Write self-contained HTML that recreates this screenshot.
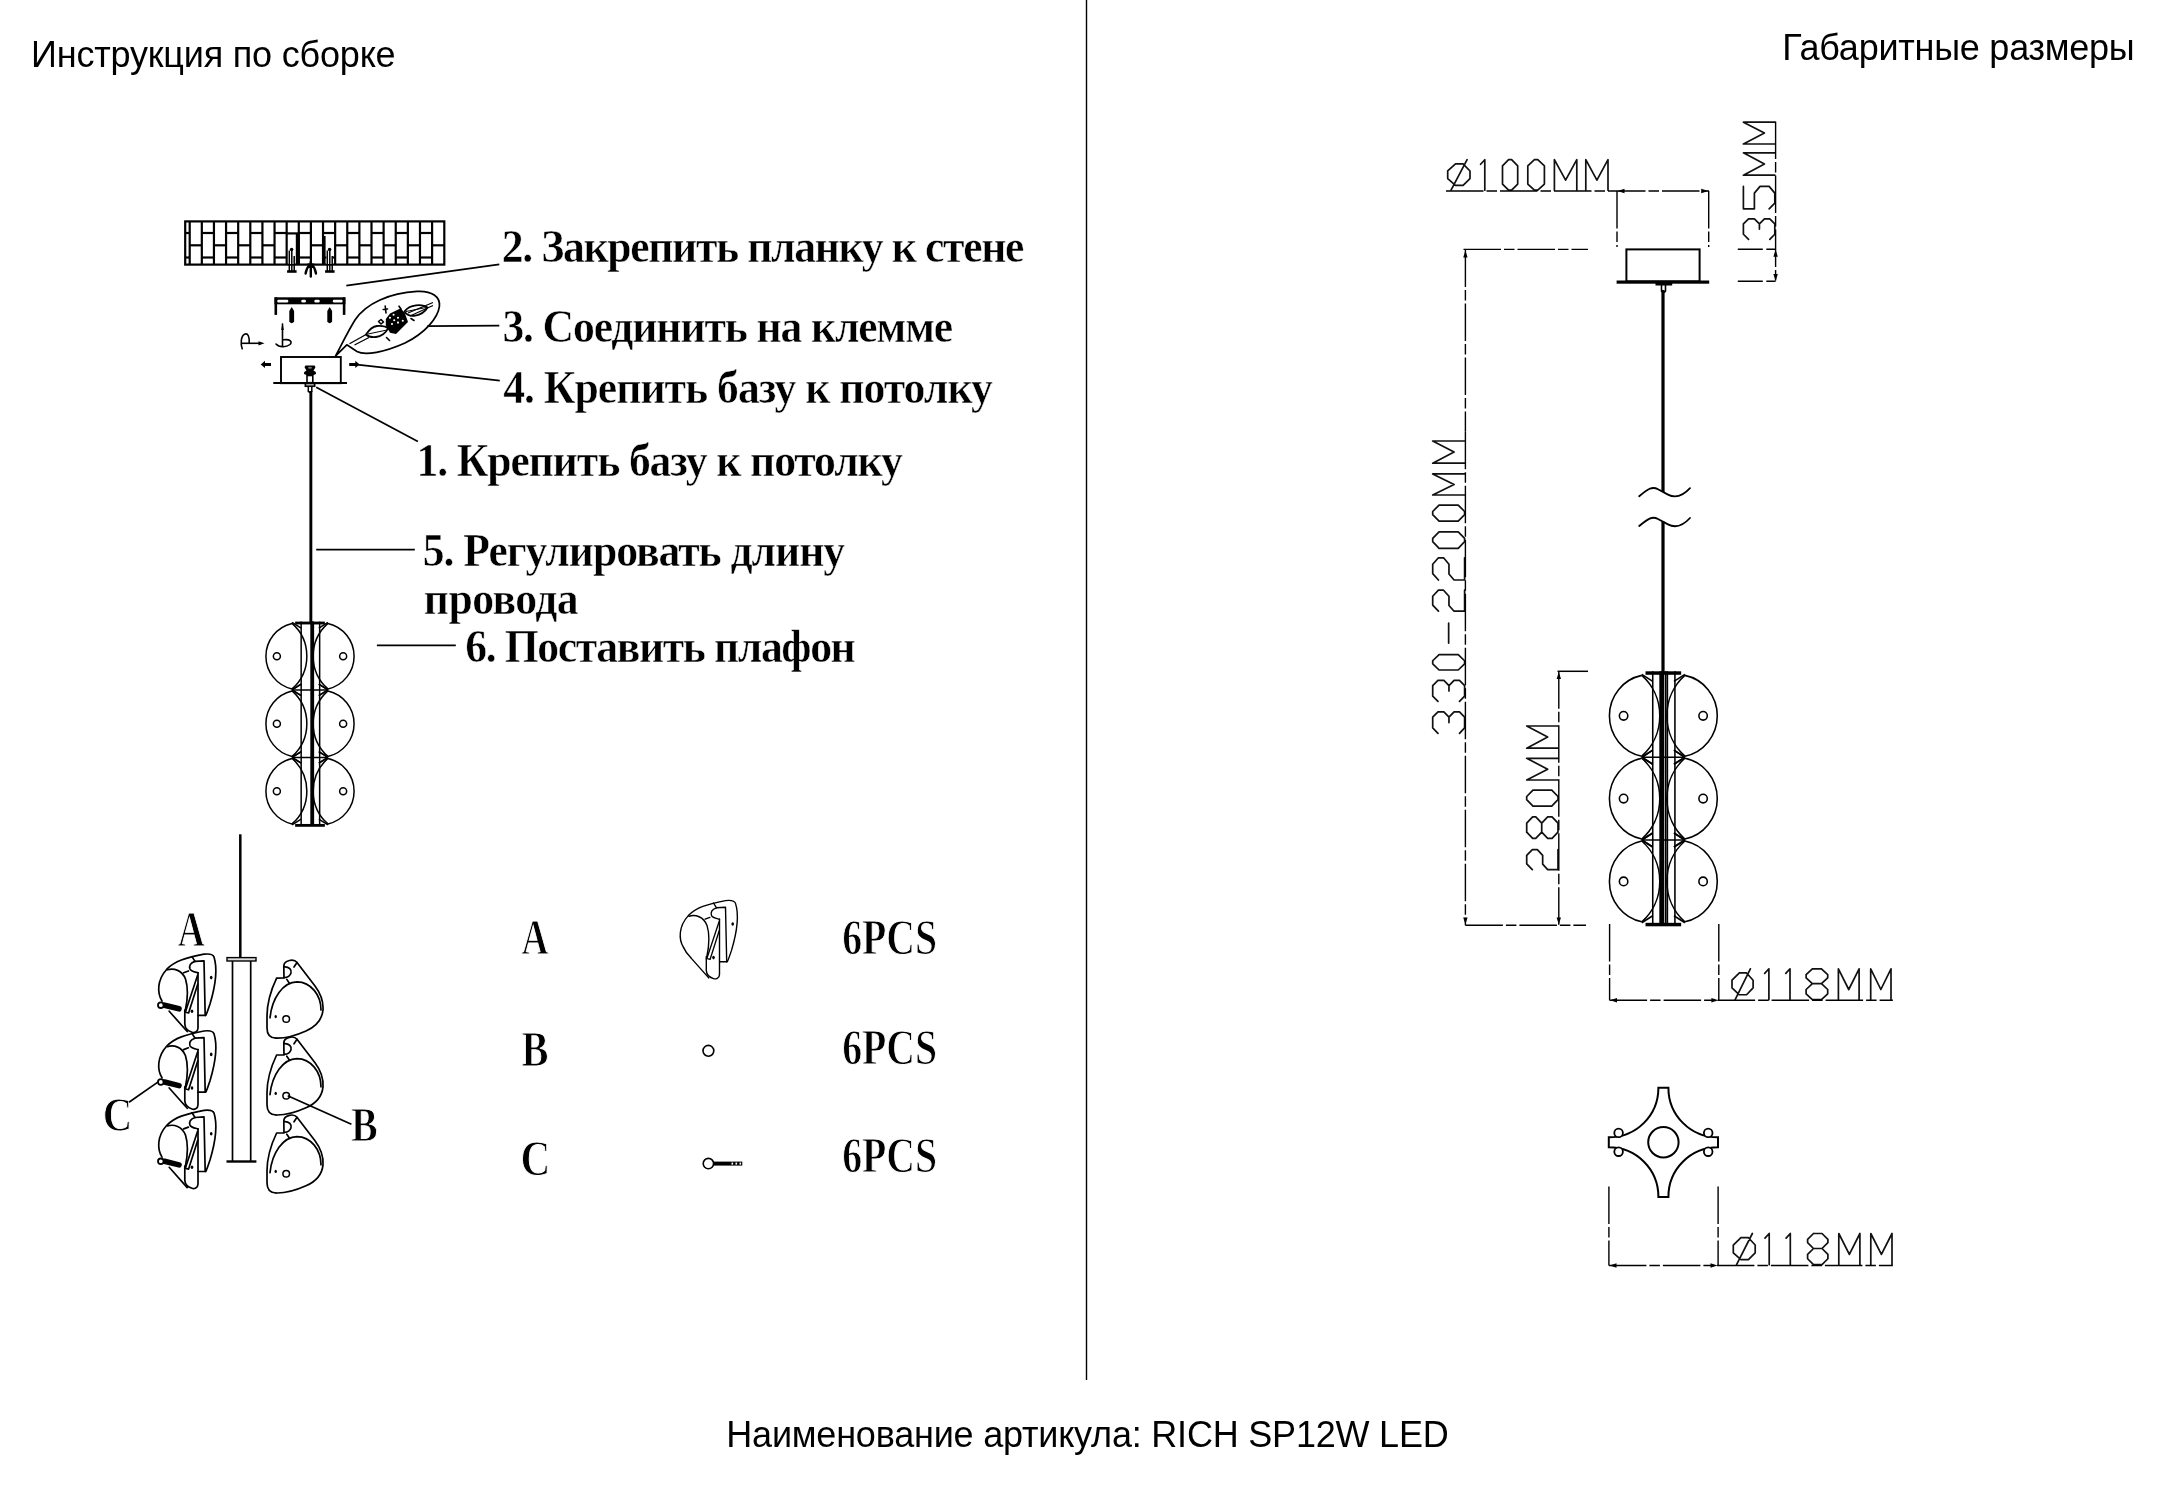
<!DOCTYPE html>
<html><head><meta charset="utf-8"><title>RICH SP12W LED</title>
<style>html,body{margin:0;padding:0;background:#fff;}svg{display:block;will-change:transform;}</style></head>
<body><svg width="2174" height="1500" viewBox="0 0 2174 1500">
<rect width="2174" height="1500" fill="#fff"/>
<text x="31.0" y="67.1" font-family="&quot;Liberation Sans&quot;, sans-serif" font-weight="normal" font-size="36" textLength="364.64" lengthAdjust="spacing">Инструкция по сборке</text><text x="1782.3" y="60.0" font-family="&quot;Liberation Sans&quot;, sans-serif" font-weight="normal" font-size="36" textLength="352.43" lengthAdjust="spacing">Габаритные размеры</text><text x="726.3" y="1446.5" font-family="&quot;Liberation Sans&quot;, sans-serif" font-weight="normal" font-size="36" textLength="722.41" lengthAdjust="spacing">Наименование артикула: RICH SP12W LED</text><text transform="translate(501.8,262.1) scale(0.93,1)" x="0" y="0" font-family="&quot;Liberation Serif&quot;, serif" font-weight="bold" font-size="47" textLength="561.96" lengthAdjust="spacing" stroke="#fff" stroke-width="0.5">2. Закрепить планку к стене</text><text transform="translate(502.4,341.8) scale(0.93,1)" x="0" y="0" font-family="&quot;Liberation Serif&quot;, serif" font-weight="bold" font-size="47" textLength="484.74" lengthAdjust="spacing" stroke="#fff" stroke-width="0.5">3. Соединить на клемме</text><text transform="translate(503.2,402.7) scale(0.93,1)" x="0" y="0" font-family="&quot;Liberation Serif&quot;, serif" font-weight="bold" font-size="47" textLength="526.45" lengthAdjust="spacing" stroke="#fff" stroke-width="0.5">4. Крепить базу к потолку</text><text transform="translate(416.6,475.8) scale(0.93,1)" x="0" y="0" font-family="&quot;Liberation Serif&quot;, serif" font-weight="bold" font-size="47" textLength="522.82" lengthAdjust="spacing" stroke="#fff" stroke-width="0.5">1. Крепить базу к потолку</text><text transform="translate(422.8,566.0) scale(0.93,1)" x="0" y="0" font-family="&quot;Liberation Serif&quot;, serif" font-weight="bold" font-size="47" textLength="454.19" lengthAdjust="spacing" stroke="#fff" stroke-width="0.5">5. Регулировать длину</text><text transform="translate(423.8,613.9) scale(0.93,1)" x="0" y="0" font-family="&quot;Liberation Serif&quot;, serif" font-weight="bold" font-size="47" textLength="166.51" lengthAdjust="spacing" stroke="#fff" stroke-width="0.5">провода</text><text transform="translate(465.2,661.5) scale(0.93,1)" x="0" y="0" font-family="&quot;Liberation Serif&quot;, serif" font-weight="bold" font-size="47" textLength="420.01" lengthAdjust="spacing" stroke="#fff" stroke-width="0.5">6. Поставить плафон</text><text x="177.8" y="945.8" font-family="&quot;Liberation Serif&quot;, serif" font-weight="bold" font-size="50" textLength="27.06" lengthAdjust="spacingAndGlyphs" stroke="#fff" stroke-width="1.0">A</text><text x="102.7" y="1131.2" font-family="&quot;Liberation Serif&quot;, serif" font-weight="bold" font-size="48" textLength="29.56" lengthAdjust="spacingAndGlyphs" stroke="#fff" stroke-width="1.0">C</text><text x="351.0" y="1140.5" font-family="&quot;Liberation Serif&quot;, serif" font-weight="bold" font-size="48" textLength="26.76" lengthAdjust="spacingAndGlyphs" stroke="#fff" stroke-width="1.0">B</text><text x="521.6" y="954.0" font-family="&quot;Liberation Serif&quot;, serif" font-weight="bold" font-size="50" textLength="26.94" lengthAdjust="spacingAndGlyphs" stroke="#fff" stroke-width="1.0">A</text><text x="521.6" y="1066.1" font-family="&quot;Liberation Serif&quot;, serif" font-weight="bold" font-size="50" textLength="27.04" lengthAdjust="spacingAndGlyphs" stroke="#fff" stroke-width="1.0">B</text><text x="520.4" y="1174.6" font-family="&quot;Liberation Serif&quot;, serif" font-weight="bold" font-size="50" textLength="29.85" lengthAdjust="spacingAndGlyphs" stroke="#fff" stroke-width="1.0">C</text><text x="842.2" y="954.0" font-family="&quot;Liberation Serif&quot;, serif" font-weight="bold" font-size="50" textLength="95.04" lengthAdjust="spacingAndGlyphs" stroke="#fff" stroke-width="1.0">6PCS</text><text x="842.2" y="1063.9" font-family="&quot;Liberation Serif&quot;, serif" font-weight="bold" font-size="50" textLength="95.04" lengthAdjust="spacingAndGlyphs" stroke="#fff" stroke-width="1.0">6PCS</text><text x="842.2" y="1172.4" font-family="&quot;Liberation Serif&quot;, serif" font-weight="bold" font-size="50" textLength="95.04" lengthAdjust="spacingAndGlyphs" stroke="#fff" stroke-width="1.0">6PCS</text><rect x="1085.8" y="0" width="1.4" height="1380" fill="#000"/><rect x="185.2" y="221.4" width="259.10" height="43.20" fill="none" stroke="#000" stroke-width="2.2"/><line x1="201.82" y1="221.4" x2="201.82" y2="264.6" stroke="#000" stroke-width="2.2"/><line x1="213.94" y1="221.4" x2="213.94" y2="264.6" stroke="#000" stroke-width="2.2"/><line x1="226.06" y1="221.4" x2="226.06" y2="264.6" stroke="#000" stroke-width="2.2"/><line x1="238.18" y1="221.4" x2="238.18" y2="264.6" stroke="#000" stroke-width="2.2"/><line x1="250.30" y1="221.4" x2="250.30" y2="264.6" stroke="#000" stroke-width="2.2"/><line x1="262.42" y1="221.4" x2="262.42" y2="264.6" stroke="#000" stroke-width="2.2"/><line x1="274.54" y1="221.4" x2="274.54" y2="264.6" stroke="#000" stroke-width="2.2"/><line x1="286.66" y1="221.4" x2="286.66" y2="264.6" stroke="#000" stroke-width="2.2"/><line x1="298.78" y1="221.4" x2="298.78" y2="264.6" stroke="#000" stroke-width="2.2"/><line x1="310.90" y1="221.4" x2="310.90" y2="264.6" stroke="#000" stroke-width="2.2"/><line x1="323.02" y1="221.4" x2="323.02" y2="264.6" stroke="#000" stroke-width="2.2"/><line x1="335.14" y1="221.4" x2="335.14" y2="264.6" stroke="#000" stroke-width="2.2"/><line x1="347.26" y1="221.4" x2="347.26" y2="264.6" stroke="#000" stroke-width="2.2"/><line x1="359.38" y1="221.4" x2="359.38" y2="264.6" stroke="#000" stroke-width="2.2"/><line x1="371.50" y1="221.4" x2="371.50" y2="264.6" stroke="#000" stroke-width="2.2"/><line x1="383.62" y1="221.4" x2="383.62" y2="264.6" stroke="#000" stroke-width="2.2"/><line x1="395.74" y1="221.4" x2="395.74" y2="264.6" stroke="#000" stroke-width="2.2"/><line x1="407.86" y1="221.4" x2="407.86" y2="264.6" stroke="#000" stroke-width="2.2"/><line x1="419.98" y1="221.4" x2="419.98" y2="264.6" stroke="#000" stroke-width="2.2"/><line x1="432.10" y1="221.4" x2="432.10" y2="264.6" stroke="#000" stroke-width="2.2"/><line x1="189.7" y1="221.4" x2="189.7" y2="264.6" stroke="#000" stroke-width="2.2"/><line x1="185.20" y1="233.0" x2="189.70" y2="233.0" stroke="#000" stroke-width="2.2"/><line x1="185.20" y1="257.5" x2="189.70" y2="257.5" stroke="#000" stroke-width="2.2"/><line x1="189.70" y1="245.3" x2="201.82" y2="245.3" stroke="#000" stroke-width="2.2"/><line x1="201.82" y1="233.0" x2="213.94" y2="233.0" stroke="#000" stroke-width="2.2"/><line x1="201.82" y1="257.5" x2="213.94" y2="257.5" stroke="#000" stroke-width="2.2"/><line x1="213.94" y1="245.3" x2="226.06" y2="245.3" stroke="#000" stroke-width="2.2"/><line x1="226.06" y1="233.0" x2="238.18" y2="233.0" stroke="#000" stroke-width="2.2"/><line x1="226.06" y1="257.5" x2="238.18" y2="257.5" stroke="#000" stroke-width="2.2"/><line x1="238.18" y1="245.3" x2="250.30" y2="245.3" stroke="#000" stroke-width="2.2"/><line x1="250.30" y1="233.0" x2="262.42" y2="233.0" stroke="#000" stroke-width="2.2"/><line x1="250.30" y1="257.5" x2="262.42" y2="257.5" stroke="#000" stroke-width="2.2"/><line x1="262.42" y1="245.3" x2="274.54" y2="245.3" stroke="#000" stroke-width="2.2"/><line x1="274.54" y1="233.0" x2="286.66" y2="233.0" stroke="#000" stroke-width="2.2"/><line x1="274.54" y1="257.5" x2="286.66" y2="257.5" stroke="#000" stroke-width="2.2"/><line x1="286.66" y1="233.4" x2="298.78" y2="233.4" stroke="#000" stroke-width="2.2"/><line x1="298.78" y1="233.0" x2="310.90" y2="233.0" stroke="#000" stroke-width="2.2"/><line x1="298.78" y1="257.5" x2="310.90" y2="257.5" stroke="#000" stroke-width="2.2"/><line x1="310.90" y1="245.3" x2="323.02" y2="245.3" stroke="#000" stroke-width="2.2"/><line x1="323.02" y1="233.0" x2="335.14" y2="233.0" stroke="#000" stroke-width="2.2"/><line x1="323.02" y1="257.5" x2="335.14" y2="257.5" stroke="#000" stroke-width="2.2"/><line x1="335.14" y1="245.3" x2="347.26" y2="245.3" stroke="#000" stroke-width="2.2"/><line x1="347.26" y1="233.0" x2="359.38" y2="233.0" stroke="#000" stroke-width="2.2"/><line x1="347.26" y1="257.5" x2="359.38" y2="257.5" stroke="#000" stroke-width="2.2"/><line x1="359.38" y1="245.3" x2="371.50" y2="245.3" stroke="#000" stroke-width="2.2"/><line x1="371.50" y1="233.0" x2="383.62" y2="233.0" stroke="#000" stroke-width="2.2"/><line x1="371.50" y1="257.5" x2="383.62" y2="257.5" stroke="#000" stroke-width="2.2"/><line x1="383.62" y1="245.3" x2="395.74" y2="245.3" stroke="#000" stroke-width="2.2"/><line x1="395.74" y1="233.0" x2="407.86" y2="233.0" stroke="#000" stroke-width="2.2"/><line x1="395.74" y1="257.5" x2="407.86" y2="257.5" stroke="#000" stroke-width="2.2"/><line x1="407.86" y1="245.3" x2="419.98" y2="245.3" stroke="#000" stroke-width="2.2"/><line x1="419.98" y1="233.0" x2="432.10" y2="233.0" stroke="#000" stroke-width="2.2"/><line x1="419.98" y1="257.5" x2="432.10" y2="257.5" stroke="#000" stroke-width="2.2"/><line x1="432.10" y1="245.3" x2="444.30" y2="245.3" stroke="#000" stroke-width="2.2"/><rect x="295.8" y="234" width="4" height="30.6" fill="#000"/><rect x="322.2" y="236" width="3.4" height="28.6" fill="#000"/><rect x="288.40000000000003" y="250" width="6.4" height="14" fill="#fff"/><path d="M289.3,250.5 L289.3,271 M291.8,250.5 L291.8,271 M294.20000000000005,256 L294.20000000000005,271" stroke="#000" stroke-width="1.5" fill="none"/><circle cx="291.6" cy="249.5" r="1.8" fill="#000"/><line x1="287.1" y1="271.5" x2="296.6" y2="271.5" stroke="#000" stroke-width="2.6"/><rect x="326.40000000000003" y="250" width="6.4" height="14" fill="#fff"/><path d="M327.3,250.5 L327.3,271 M329.8,250.5 L329.8,271 M332.20000000000005,256 L332.20000000000005,271" stroke="#000" stroke-width="1.5" fill="none"/><circle cx="329.6" cy="249.5" r="1.8" fill="#000"/><line x1="325.1" y1="271.5" x2="334.6" y2="271.5" stroke="#000" stroke-width="2.6"/><path d="M310.8,262 L310.8,276.5 M309.5,265 Q306.5,268 305.6,273.5 M312.1,265 Q315.1,268 316,273.5" stroke="#000" stroke-width="2.4" fill="none" stroke-linecap="round"/><path d="M307.2,263.5 L314.4,263.5 L313,268 L308.6,268 Z" fill="#000"/><rect x="274.5" y="297.3" width="70.9" height="7" fill="#000"/><rect x="277.2" y="299.8" width="11.1" height="2.6" rx="1.2" fill="#fff"/><rect x="301.3" y="299.8" width="4.6" height="2.6" rx="1.2" fill="#fff"/><rect x="314.4" y="299.8" width="5.3" height="2.6" rx="1.2" fill="#fff"/><rect x="332.8" y="299.8" width="9.9" height="2.6" rx="1.2" fill="#fff"/><rect x="274.5" y="297.3" width="2.6" height="17.6" fill="#000"/><rect x="342.8" y="297.3" width="2.6" height="17.6" fill="#000"/><path d="M291.7,307 L294.09999999999997,311 L294.09999999999997,321.5 Q291.7,325 289.3,321.5 L289.3,311 Z" fill="#000"/><path d="M329.7,307 L332.09999999999997,311 L332.09999999999997,321.5 Q329.7,325 327.3,321.5 L327.3,311 Z" fill="#000"/><path d="M242.2,348.8 C240.5,344 240.8,336 244.5,334.2 C248,332.6 249.6,337 249.2,343" fill="none" stroke="#000" stroke-width="1.6" stroke-linecap="round"/><line x1="241.5" y1="343.3" x2="261" y2="343.3" stroke="#000" stroke-width="1.6"/><path d="M264.5,343.3 L258.5,341.2 L258.5,345.4 Z" fill="#000"/><path d="M282.5,324 L282.5,346.5 M276,344 C279,347.5 286,347.8 290,344.5 C292.5,342 290.5,338.8 283.5,339.8" fill="none" stroke="#000" stroke-width="1.6" stroke-linecap="round"/><path d="M282.5,323 L283.8,330 L281.2,330 Z" fill="#000"/><rect x="281" y="357" width="59.8" height="26.2" fill="none" stroke="#000" stroke-width="1.9"/><line x1="273.3" y1="383.1" x2="347" y2="383.1" stroke="#000" stroke-width="2"/><path d="M260.7,364.4 L265,360.8 L265,362.9 L271,362.9 L271,366 L265,366 L265,368 Z" fill="#000"/><path d="M359.6,364.4 L355.3,360.8 L355.3,362.9 L349.2,362.9 L349.2,366 L355.3,366 L355.3,368 Z" fill="#000"/><path d="M305.5,365.6 L314.5,365.6 L315.5,367 L314.5,369 L313.5,370.5 L315.8,372 L316,374 L313,375.2 L307,375.2 L304,374 L304.2,372 L306.5,370.5 L305.5,369 L304.5,367 Z" fill="#000"/><ellipse cx="310" cy="367.8" rx="2" ry="1" fill="#777"/><rect x="307" y="375.5" width="5.8" height="7.2" fill="none" stroke="#000" stroke-width="1.6"/><rect x="305.4" y="383.4" width="9.2" height="2.8" fill="none" stroke="#000" stroke-width="1.7"/><path d="M308.3,386.8 L308.3,391.5 L310,392.5 L311.8,391.5 L311.8,386.8" fill="none" stroke="#000" stroke-width="1.5"/><rect x="309.4" y="391" width="2.9" height="231" fill="#000"/><path d="M335.4,356.2 C341,346 347,333 355,320 C366,303 390,293 417,291.4 C432,290.5 440.5,297 439.4,306.4 C438,318 425,333 405,343 C385,352 365,356 357,351.5 L346.8,344.8 L335.4,356.2" fill="#fff" stroke="#000" stroke-width="1.7" stroke-linejoin="round"/><path d="M349.5,343.8 L367,334 M354.5,345 L369,337.5 M408,313 L433,302.5 M410,316 L433,305.5" stroke="#000" stroke-width="1.3" fill="none"/><path d="M366,334.5 C369,330 372,326.5 377,326 C382,325.6 386,326.5 388,328.5 C386,333 381,336.5 376,337 C372,337.4 368,336.5 366,334.5 Z" fill="none" stroke="#000" stroke-width="1.8"/><path d="M368,334 L387,330" stroke="#000" stroke-width="1" fill="none"/><path d="M404.5,311.5 C407,308 411,305.8 416,305.3 C421,304.8 425,305.5 427.5,307.5 C425,312 420,315 414,315.8 C409,316.2 406,314 404.5,311.5 Z" fill="none" stroke="#000" stroke-width="1.8"/><path d="M406,311.5 L426,307.5" stroke="#000" stroke-width="1" fill="none"/><path d="M385.8,319 L390,313.6 L400.8,308.2 L405,313.6 L408,322 L396,334 L390,332.8 L385.8,325.6 Z" fill="#000"/><circle cx="393.6" cy="314.8" r="1.05" fill="#fff"/><circle cx="390" cy="317.8" r="1.05" fill="#fff"/><circle cx="398" cy="317.8" r="1.05" fill="#fff"/><circle cx="394.2" cy="320.2" r="1.05" fill="#fff"/><circle cx="402.8" cy="320.8" r="1.05" fill="#fff"/><circle cx="398" cy="322.6" r="1.05" fill="#fff"/><circle cx="392" cy="324" r="1.05" fill="#fff"/><path d="M385.2,306 L386,313 M383.2,309.5 L387.5,309 M399,306.2 L401,309 M378.5,321.5 L381,319.5 L383.5,322 L381,324 Z M411,318.5 L414,320.5 M386.5,337.5 L389.5,340.5" stroke="#000" stroke-width="1.6" fill="none" stroke-linecap="round" stroke-linejoin="round"/><line x1="346.3" y1="285.6" x2="499.3" y2="264.3" stroke="#000" stroke-width="1.7"/><line x1="427.2" y1="326.2" x2="499.3" y2="325.6" stroke="#000" stroke-width="1.7"/><line x1="357.1" y1="364.6" x2="499.8" y2="380.6" stroke="#000" stroke-width="1.7"/><line x1="316.2" y1="387.3" x2="417.9" y2="441.4" stroke="#000" stroke-width="1.7"/><line x1="316.2" y1="549.7" x2="414.8" y2="549.7" stroke="#000" stroke-width="1.7"/><line x1="376.9" y1="645.4" x2="455.8" y2="645.4" stroke="#000" stroke-width="1.7"/><line x1="129" y1="1102.2" x2="158.9" y2="1081.4" stroke="#000" stroke-width="1.7"/><line x1="287.7" y1="1095.7" x2="351.4" y2="1124.3" stroke="#000" stroke-width="1.7"/><g fill="none" stroke="#000" stroke-width="1.5"><path d="M292.05,623.40 A33.59,33.59 0 0 0 292.05,688.90" /><path d="M292.05,623.40 A43.67,43.67 0 0 1 292.05,688.90" /><circle cx="276.86" cy="656.15" r="3.51" /><path d="M327.95,623.40 A33.59,33.59 0 0 1 327.95,688.90" /><path d="M327.95,623.40 A43.67,43.67 0 0 0 327.95,688.90" /><circle cx="343.14" cy="656.15" r="3.51" /><line x1="292.05" y1="622.40" x2="301.16" y2="628.14" /><line x1="327.95" y1="622.40" x2="318.84" y2="628.14" /><line x1="292.05" y1="689.90" x2="301.16" y2="684.16" /><line x1="292.05" y1="689.90" x2="301.16" y2="695.64" /><line x1="327.95" y1="689.90" x2="318.84" y2="684.16" /><line x1="327.95" y1="689.90" x2="318.84" y2="695.64" /><path d="M292.05,690.90 A33.59,33.59 0 0 0 292.05,756.40" /><path d="M292.05,690.90 A43.67,43.67 0 0 1 292.05,756.40" /><circle cx="276.86" cy="723.65" r="3.51" /><path d="M327.95,690.90 A33.59,33.59 0 0 1 327.95,756.40" /><path d="M327.95,690.90 A43.67,43.67 0 0 0 327.95,756.40" /><circle cx="343.14" cy="723.65" r="3.51" /><line x1="292.05" y1="689.90" x2="327.95" y2="689.90" /><line x1="292.05" y1="689.90" x2="301.16" y2="684.16" /><line x1="292.05" y1="689.90" x2="301.16" y2="695.64" /><line x1="327.95" y1="689.90" x2="318.84" y2="684.16" /><line x1="327.95" y1="689.90" x2="318.84" y2="695.64" /><line x1="292.05" y1="757.40" x2="301.16" y2="751.66" /><line x1="292.05" y1="757.40" x2="301.16" y2="763.14" /><line x1="327.95" y1="757.40" x2="318.84" y2="751.66" /><line x1="327.95" y1="757.40" x2="318.84" y2="763.14" /><path d="M292.05,758.40 A33.59,33.59 0 0 0 292.05,823.90" /><path d="M292.05,758.40 A43.67,43.67 0 0 1 292.05,823.90" /><circle cx="276.86" cy="791.15" r="3.51" /><path d="M327.95,758.40 A33.59,33.59 0 0 1 327.95,823.90" /><path d="M327.95,758.40 A43.67,43.67 0 0 0 327.95,823.90" /><circle cx="343.14" cy="791.15" r="3.51" /><line x1="292.05" y1="757.40" x2="327.95" y2="757.40" /><line x1="292.05" y1="757.40" x2="301.16" y2="751.66" /><line x1="292.05" y1="757.40" x2="301.16" y2="763.14" /><line x1="327.95" y1="757.40" x2="318.84" y2="751.66" /><line x1="327.95" y1="757.40" x2="318.84" y2="763.14" /><line x1="292.05" y1="824.90" x2="301.16" y2="819.16" /><line x1="327.95" y1="824.90" x2="318.84" y2="819.16" /><line x1="301.16" y1="621.60" x2="301.16" y2="826.00" /><line x1="319.65" y1="621.60" x2="319.65" y2="826.00" /><line x1="312.02" y1="621.60" x2="312.02" y2="826.00" /><line x1="313.38" y1="621.60" x2="313.38" y2="826.00" /><rect x="310.31" y="621.60" width="3.38" height="204.40" fill="#000" stroke="none"/><rect x="295.15" y="621.60" width="29.70" height="2.83" fill="#000" stroke="none"/><rect x="295.15" y="823.96" width="29.70" height="2.83" fill="#000" stroke="none"/></g><line x1="240.3" y1="834.3" x2="240.3" y2="958" stroke="#000" stroke-width="2.5"/><rect x="227" y="957.6" width="29" height="3.4" fill="#ddd" stroke="#000" stroke-width="1.4"/><line x1="232.5" y1="961" x2="232.5" y2="1161" stroke="#000" stroke-width="1.7"/><line x1="250.7" y1="961" x2="250.7" y2="1161" stroke="#000" stroke-width="1.7"/><line x1="226.5" y1="1161.5" x2="256.4" y2="1161.5" stroke="#000" stroke-width="2.4"/><path d="M162.00,1001.00 C157.00,993.00 157.00,980.00 166.80,969.20 C175.00,961.00 185.00,958.00 204.00,954.20 C209.00,953.60 213.00,954.00 214.00,957.00 C217.50,968.00 216.00,984.00 210.00,1004.00 C208.00,1010.00 207.00,1013.00 205.80,1015.40 L198.00,1015.40" fill="none" stroke="#000" stroke-width="1.7" stroke-linejoin="round" stroke-linecap="round"/><path d="M204.00,960.80 L205.20,1015.40 M195.00,961.40 L204.00,960.80 M192.00,956.60 L195.00,961.40" fill="none" stroke="#000" stroke-width="1.7" stroke-linejoin="round" stroke-linecap="round"/><path d="M198.00,972.80 L198.00,1028.00 C198.00,1032.00 194.00,1033.00 192.00,1032.20 C188.00,1031.00 185.00,1029.00 184.80,1024.00 L184.80,1010.00" fill="none" stroke="#000" stroke-width="1.7" stroke-linejoin="round" stroke-linecap="round"/><path d="M195.00,961.40 C190.00,963.00 189.00,966.00 190.00,969.00 C191.00,971.50 195.00,972.00 198.00,972.80" fill="none" stroke="#000" stroke-width="1.7" stroke-linejoin="round" stroke-linecap="round"/><path d="M169.20,1011.20 L187.20,1031.50" fill="none" stroke="#000" stroke-width="1.7" stroke-linejoin="round" stroke-linecap="round"/><path d="M167.40,969.80 C174.00,968.00 182.00,970.00 185.50,979.00 C188.00,987.00 187.50,1000.00 185.40,1010.00" fill="none" stroke="#000" stroke-width="1.7" stroke-linejoin="round" stroke-linecap="round"/><path d="M185.40,1012.00 L197.60,975.20 M188.60,1013.00 L197.80,984.00 M184.80,1012.00 L188.60,1013.00" fill="none" stroke="#000" stroke-width="1.7" stroke-linejoin="round" stroke-linecap="round"/><path d="M183.60,972.80 L188.40,971.00" fill="none" stroke="#000" stroke-width="1.7" stroke-linejoin="round" stroke-linecap="round"/><ellipse cx="211.20" cy="977.60" rx="1.3" ry="1.8" fill="#000"/><ellipse cx="192.00" cy="1011.20" rx="1.3" ry="1.8" fill="#000"/><line x1="164.50" y1="1005.20" x2="179.00" y2="1008.80" stroke="#000" stroke-width="5.6" stroke-linecap="round"/><circle cx="160.80" cy="1005.20" r="2.8" fill="#fff" stroke="#000" stroke-width="1.8"/><path d="M162.00,1077.80 C157.00,1069.80 157.00,1056.80 166.80,1046.00 C175.00,1037.80 185.00,1034.80 204.00,1031.00 C209.00,1030.40 213.00,1030.80 214.00,1033.80 C217.50,1044.80 216.00,1060.80 210.00,1080.80 C208.00,1086.80 207.00,1089.80 205.80,1092.20 L198.00,1092.20" fill="none" stroke="#000" stroke-width="1.7" stroke-linejoin="round" stroke-linecap="round"/><path d="M204.00,1037.60 L205.20,1092.20 M195.00,1038.20 L204.00,1037.60 M192.00,1033.40 L195.00,1038.20" fill="none" stroke="#000" stroke-width="1.7" stroke-linejoin="round" stroke-linecap="round"/><path d="M198.00,1049.60 L198.00,1104.80 C198.00,1108.80 194.00,1109.80 192.00,1109.00 C188.00,1107.80 185.00,1105.80 184.80,1100.80 L184.80,1086.80" fill="none" stroke="#000" stroke-width="1.7" stroke-linejoin="round" stroke-linecap="round"/><path d="M195.00,1038.20 C190.00,1039.80 189.00,1042.80 190.00,1045.80 C191.00,1048.30 195.00,1048.80 198.00,1049.60" fill="none" stroke="#000" stroke-width="1.7" stroke-linejoin="round" stroke-linecap="round"/><path d="M169.20,1088.00 L187.20,1108.30" fill="none" stroke="#000" stroke-width="1.7" stroke-linejoin="round" stroke-linecap="round"/><path d="M167.40,1046.60 C174.00,1044.80 182.00,1046.80 185.50,1055.80 C188.00,1063.80 187.50,1076.80 185.40,1086.80" fill="none" stroke="#000" stroke-width="1.7" stroke-linejoin="round" stroke-linecap="round"/><path d="M185.40,1088.80 L197.60,1052.00 M188.60,1089.80 L197.80,1060.80 M184.80,1088.80 L188.60,1089.80" fill="none" stroke="#000" stroke-width="1.7" stroke-linejoin="round" stroke-linecap="round"/><path d="M183.60,1049.60 L188.40,1047.80" fill="none" stroke="#000" stroke-width="1.7" stroke-linejoin="round" stroke-linecap="round"/><ellipse cx="211.20" cy="1054.40" rx="1.3" ry="1.8" fill="#000"/><ellipse cx="192.00" cy="1088.00" rx="1.3" ry="1.8" fill="#000"/><line x1="164.50" y1="1082.00" x2="179.00" y2="1085.60" stroke="#000" stroke-width="5.6" stroke-linecap="round"/><circle cx="160.80" cy="1082.00" r="2.8" fill="#fff" stroke="#000" stroke-width="1.8"/><path d="M162.00,1157.10 C157.00,1149.10 157.00,1136.10 166.80,1125.30 C175.00,1117.10 185.00,1114.10 204.00,1110.30 C209.00,1109.70 213.00,1110.10 214.00,1113.10 C217.50,1124.10 216.00,1140.10 210.00,1160.10 C208.00,1166.10 207.00,1169.10 205.80,1171.50 L198.00,1171.50" fill="none" stroke="#000" stroke-width="1.7" stroke-linejoin="round" stroke-linecap="round"/><path d="M204.00,1116.90 L205.20,1171.50 M195.00,1117.50 L204.00,1116.90 M192.00,1112.70 L195.00,1117.50" fill="none" stroke="#000" stroke-width="1.7" stroke-linejoin="round" stroke-linecap="round"/><path d="M198.00,1128.90 L198.00,1184.10 C198.00,1188.10 194.00,1189.10 192.00,1188.30 C188.00,1187.10 185.00,1185.10 184.80,1180.10 L184.80,1166.10" fill="none" stroke="#000" stroke-width="1.7" stroke-linejoin="round" stroke-linecap="round"/><path d="M195.00,1117.50 C190.00,1119.10 189.00,1122.10 190.00,1125.10 C191.00,1127.60 195.00,1128.10 198.00,1128.90" fill="none" stroke="#000" stroke-width="1.7" stroke-linejoin="round" stroke-linecap="round"/><path d="M169.20,1167.30 L187.20,1187.60" fill="none" stroke="#000" stroke-width="1.7" stroke-linejoin="round" stroke-linecap="round"/><path d="M167.40,1125.90 C174.00,1124.10 182.00,1126.10 185.50,1135.10 C188.00,1143.10 187.50,1156.10 185.40,1166.10" fill="none" stroke="#000" stroke-width="1.7" stroke-linejoin="round" stroke-linecap="round"/><path d="M185.40,1168.10 L197.60,1131.30 M188.60,1169.10 L197.80,1140.10 M184.80,1168.10 L188.60,1169.10" fill="none" stroke="#000" stroke-width="1.7" stroke-linejoin="round" stroke-linecap="round"/><path d="M183.60,1128.90 L188.40,1127.10" fill="none" stroke="#000" stroke-width="1.7" stroke-linejoin="round" stroke-linecap="round"/><ellipse cx="211.20" cy="1133.70" rx="1.3" ry="1.8" fill="#000"/><ellipse cx="192.00" cy="1167.30" rx="1.3" ry="1.8" fill="#000"/><line x1="164.50" y1="1161.30" x2="179.00" y2="1164.90" stroke="#000" stroke-width="5.6" stroke-linecap="round"/><circle cx="160.80" cy="1161.30" r="2.8" fill="#fff" stroke="#000" stroke-width="1.8"/><path d="M283.80,966.00 C284.00,960.00 294.00,958.50 297.00,962.50 L294.00,967.00" fill="none" stroke="#000" stroke-width="1.7" stroke-linejoin="round" stroke-linecap="round"/><path d="M284.40,966.80 C289.00,966.50 292.00,970.00 291.00,973.00 C290.00,976.00 287.00,977.50 284.40,977.60" fill="none" stroke="#000" stroke-width="1.7" stroke-linejoin="round" stroke-linecap="round"/><path d="M283.80,966.00 L284.00,978.00 L276.60,978.20 C271.00,990.00 267.00,1005.00 267.00,1016.00 L267.00,1028.00 C267.00,1034.00 270.00,1038.00 276.00,1038.20" fill="none" stroke="#000" stroke-width="1.7" stroke-linejoin="round" stroke-linecap="round"/><path d="M297.00,962.50 L315.00,986.00 C321.00,994.00 323.50,1002.00 323.00,1010.00 C322.00,1020.00 315.00,1027.00 306.00,1031.00 C297.00,1035.00 285.00,1038.50 276.00,1038.20" fill="none" stroke="#000" stroke-width="1.7" stroke-linejoin="round" stroke-linecap="round"/><path d="M321.00,1010.00 C321.00,995.00 311.00,982.00 297.00,981.80 C283.00,982.00 272.00,998.00 270.00,1017.80" fill="none" stroke="#000" stroke-width="1.7" stroke-linejoin="round" stroke-linecap="round"/><path d="M286.80,979.40 L289.20,983.00" fill="none" stroke="#000" stroke-width="1.7" stroke-linejoin="round" stroke-linecap="round"/><circle cx="286.20" cy="1019.00" r="3.3" fill="none" stroke="#000" stroke-width="1.5"/><ellipse cx="275.70" cy="1016.60" rx="1.2" ry="1.6" fill="#000"/><path d="M283.80,1042.80 C284.00,1036.80 294.00,1035.30 297.00,1039.30 L294.00,1043.80" fill="none" stroke="#000" stroke-width="1.7" stroke-linejoin="round" stroke-linecap="round"/><path d="M284.40,1043.60 C289.00,1043.30 292.00,1046.80 291.00,1049.80 C290.00,1052.80 287.00,1054.30 284.40,1054.40" fill="none" stroke="#000" stroke-width="1.7" stroke-linejoin="round" stroke-linecap="round"/><path d="M283.80,1042.80 L284.00,1054.80 L276.60,1055.00 C271.00,1066.80 267.00,1081.80 267.00,1092.80 L267.00,1104.80 C267.00,1110.80 270.00,1114.80 276.00,1115.00" fill="none" stroke="#000" stroke-width="1.7" stroke-linejoin="round" stroke-linecap="round"/><path d="M297.00,1039.30 L315.00,1062.80 C321.00,1070.80 323.50,1078.80 323.00,1086.80 C322.00,1096.80 315.00,1103.80 306.00,1107.80 C297.00,1111.80 285.00,1115.30 276.00,1115.00" fill="none" stroke="#000" stroke-width="1.7" stroke-linejoin="round" stroke-linecap="round"/><path d="M321.00,1086.80 C321.00,1071.80 311.00,1058.80 297.00,1058.60 C283.00,1058.80 272.00,1074.80 270.00,1094.60" fill="none" stroke="#000" stroke-width="1.7" stroke-linejoin="round" stroke-linecap="round"/><path d="M286.80,1056.20 L289.20,1059.80" fill="none" stroke="#000" stroke-width="1.7" stroke-linejoin="round" stroke-linecap="round"/><circle cx="286.20" cy="1095.80" r="3.3" fill="none" stroke="#000" stroke-width="1.5"/><ellipse cx="275.70" cy="1093.40" rx="1.2" ry="1.6" fill="#000"/><path d="M283.80,1120.80 C284.00,1114.80 294.00,1113.30 297.00,1117.30 L294.00,1121.80" fill="none" stroke="#000" stroke-width="1.7" stroke-linejoin="round" stroke-linecap="round"/><path d="M284.40,1121.60 C289.00,1121.30 292.00,1124.80 291.00,1127.80 C290.00,1130.80 287.00,1132.30 284.40,1132.40" fill="none" stroke="#000" stroke-width="1.7" stroke-linejoin="round" stroke-linecap="round"/><path d="M283.80,1120.80 L284.00,1132.80 L276.60,1133.00 C271.00,1144.80 267.00,1159.80 267.00,1170.80 L267.00,1182.80 C267.00,1188.80 270.00,1192.80 276.00,1193.00" fill="none" stroke="#000" stroke-width="1.7" stroke-linejoin="round" stroke-linecap="round"/><path d="M297.00,1117.30 L315.00,1140.80 C321.00,1148.80 323.50,1156.80 323.00,1164.80 C322.00,1174.80 315.00,1181.80 306.00,1185.80 C297.00,1189.80 285.00,1193.30 276.00,1193.00" fill="none" stroke="#000" stroke-width="1.7" stroke-linejoin="round" stroke-linecap="round"/><path d="M321.00,1164.80 C321.00,1149.80 311.00,1136.80 297.00,1136.60 C283.00,1136.80 272.00,1152.80 270.00,1172.60" fill="none" stroke="#000" stroke-width="1.7" stroke-linejoin="round" stroke-linecap="round"/><path d="M286.80,1134.20 L289.20,1137.80" fill="none" stroke="#000" stroke-width="1.7" stroke-linejoin="round" stroke-linecap="round"/><circle cx="286.20" cy="1173.80" r="3.3" fill="none" stroke="#000" stroke-width="1.5"/><ellipse cx="275.70" cy="1171.40" rx="1.2" ry="1.6" fill="#000"/><path d="M683.50,947.40 C678.50,939.40 678.50,926.40 688.30,915.60 C696.50,907.40 706.50,904.40 725.50,900.60 C730.50,900.00 734.50,900.40 735.50,903.40 C739.00,914.40 737.50,930.40 731.50,950.40 C729.50,956.40 728.50,959.40 727.30,961.80 L719.50,961.80" fill="none" stroke="#000" stroke-width="1.4" stroke-linejoin="round" stroke-linecap="round"/><path d="M725.50,907.20 L726.70,961.80 M716.50,907.80 L725.50,907.20 M713.50,903.00 L716.50,907.80" fill="none" stroke="#000" stroke-width="1.4" stroke-linejoin="round" stroke-linecap="round"/><path d="M719.50,919.20 L719.50,974.40 C719.50,978.40 715.50,979.40 713.50,978.60 C709.50,977.40 706.50,975.40 706.30,970.40 L706.30,956.40" fill="none" stroke="#000" stroke-width="1.4" stroke-linejoin="round" stroke-linecap="round"/><path d="M716.50,907.80 C711.50,909.40 710.50,912.40 711.50,915.40 C712.50,917.90 716.50,918.40 719.50,919.20" fill="none" stroke="#000" stroke-width="1.4" stroke-linejoin="round" stroke-linecap="round"/><path d="M690.70,957.60 L708.70,977.90" fill="none" stroke="#000" stroke-width="1.4" stroke-linejoin="round" stroke-linecap="round"/><path d="M688.90,916.20 C695.50,914.40 703.50,916.40 707.00,925.40 C709.50,933.40 709.00,946.40 706.90,956.40" fill="none" stroke="#000" stroke-width="1.4" stroke-linejoin="round" stroke-linecap="round"/><path d="M706.90,958.40 L719.10,921.60 M710.10,959.40 L719.30,930.40 M706.30,958.40 L710.10,959.40" fill="none" stroke="#000" stroke-width="1.4" stroke-linejoin="round" stroke-linecap="round"/><path d="M705.10,919.20 L709.90,917.40" fill="none" stroke="#000" stroke-width="1.4" stroke-linejoin="round" stroke-linecap="round"/><ellipse cx="732.70" cy="924.00" rx="1.3" ry="1.8" fill="#000"/><ellipse cx="713.50" cy="957.60" rx="1.3" ry="1.8" fill="#000"/><path d="M683.50,947.40 C685.00,950.90 687.50,954.40 690.70,957.60" fill="none" stroke="#000" stroke-width="1.4" stroke-linejoin="round" stroke-linecap="round"/><circle cx="708.4" cy="1050.8" r="5.4" fill="none" stroke="#000" stroke-width="1.6"/><line x1="713" y1="1163.6" x2="742.3" y2="1163.6" stroke="#000" stroke-width="4"/><rect x="731.5" y="1162.6" width="1.6" height="2" fill="#fff"/><rect x="735.5" y="1162.6" width="1.6" height="2" fill="#fff"/><rect x="739.5" y="1162.6" width="1.6" height="2" fill="#fff"/><circle cx="708.4" cy="1163.6" r="5.2" fill="#fff" stroke="#000" stroke-width="1.6"/><path d="M1455.51,163.82 L1463.09,163.82 L1470.00,170.99 L1470.00,178.61 L1463.09,185.32 L1455.51,185.32 L1447.70,178.61 L1447.70,170.99 L1455.51,163.82 M1451.05,190.20 L1467.10,159.70 M1480.60,164.28 L1484.80,159.70 L1484.80,190.20 M1508.58,159.70 L1511.62,159.70 L1517.70,165.80 L1517.70,184.10 L1511.62,190.20 L1508.58,190.20 L1502.50,184.10 L1502.50,165.80 L1508.58,159.70 M1534.44,159.70 L1537.76,159.70 L1544.40,165.80 L1544.40,184.10 L1537.76,190.20 L1534.44,190.20 L1527.80,184.10 L1527.80,165.80 L1534.44,159.70 M1554.40,190.20 L1554.40,159.70 L1565.60,180.14 L1576.80,159.70 L1576.80,190.20 M1585.80,190.20 L1585.80,159.70 L1596.90,180.14 L1608.00,159.70 L1608.00,190.20" fill="none" stroke="#111" stroke-width="1.7" stroke-linejoin="round" stroke-linecap="round"/><path d="M1739.38,972.97 L1746.56,972.97 L1753.10,980.23 L1753.10,987.96 L1746.56,994.76 L1739.38,994.76 L1732.00,987.96 L1732.00,980.23 L1739.38,972.97 M1735.16,999.70 L1750.36,968.80 M1764.70,973.43 L1768.90,968.80 L1768.90,999.70 M1785.80,973.43 L1790.00,968.80 L1790.00,999.70 M1812.36,968.80 L1821.44,968.80 L1827.70,974.67 L1827.70,977.76 L1821.44,983.63 L1812.36,983.63 L1806.10,977.76 L1806.10,974.67 L1812.36,968.80 M1812.36,983.63 L1821.44,983.63 L1827.70,989.50 L1827.70,993.83 L1821.44,999.70 L1812.36,999.70 L1806.10,993.83 L1806.10,989.50 L1812.36,983.63 M1838.40,999.70 L1838.40,968.80 L1848.75,989.50 L1859.10,968.80 L1859.10,999.70 M1870.70,999.70 L1870.70,968.80 L1880.85,989.50 L1891.00,968.80 L1891.00,999.70" fill="none" stroke="#111" stroke-width="1.7" stroke-linejoin="round" stroke-linecap="round"/><path d="M1740.96,1237.71 L1748.41,1237.71 L1755.20,1245.04 L1755.20,1252.84 L1748.41,1259.71 L1740.96,1259.71 L1733.30,1252.84 L1733.30,1245.04 L1740.96,1237.71 M1736.59,1264.70 L1752.35,1233.50 M1765.00,1238.18 L1769.20,1233.50 L1769.20,1264.70 M1786.10,1238.18 L1790.30,1233.50 L1790.30,1264.70 M1813.49,1233.50 L1822.01,1233.50 L1827.90,1239.43 L1827.90,1242.55 L1822.01,1248.48 L1813.49,1248.48 L1807.60,1242.55 L1807.60,1239.43 L1813.49,1233.50 M1813.49,1248.48 L1822.01,1248.48 L1827.90,1254.40 L1827.90,1258.77 L1822.01,1264.70 L1813.49,1264.70 L1807.60,1258.77 L1807.60,1254.40 L1813.49,1248.48 M1838.80,1264.70 L1838.80,1233.50 L1849.35,1254.40 L1859.90,1233.50 L1859.90,1264.70 M1870.80,1264.70 L1870.80,1233.50 L1881.40,1254.40 L1892.00,1233.50 L1892.00,1264.70" fill="none" stroke="#111" stroke-width="1.7" stroke-linejoin="round" stroke-linecap="round"/><path transform="translate(1431.9,740) rotate(-90)" d="M6.70,6.06 L12.07,0.80 L22.82,0.80 L28.20,6.06 L28.20,11.96 L22.82,17.07 L28.20,22.17 L28.20,27.60 L22.82,32.70 L12.07,32.70 L6.70,27.60 M22.82,17.07 L17.45,17.07 M38.60,6.06 L43.85,0.80 L54.35,0.80 L59.60,6.06 L59.60,11.96 L54.35,17.07 L59.60,22.17 L59.60,27.60 L54.35,32.70 L43.85,32.70 L38.60,27.60 M54.35,17.07 L49.10,17.07 M76.16,0.80 L79.24,0.80 L85.40,7.18 L85.40,26.32 L79.24,32.70 L76.16,32.70 L70.00,26.32 L70.00,7.18 L76.16,0.80 M96.90,16.75 L116.80,16.75 M128.80,6.54 L134.89,0.80 L143.71,0.80 L149.80,6.54 L149.80,11.65 L143.71,17.07 L134.47,17.07 L128.80,22.17 L128.80,32.70 L149.80,32.70 M160.00,6.54 L166.44,0.80 L175.76,0.80 L182.20,6.54 L182.20,11.65 L175.76,17.07 L165.99,17.07 L160.00,22.17 L160.00,32.70 L182.20,32.70 M198.30,0.80 L201.60,0.80 L208.20,7.18 L208.20,26.32 L201.60,32.70 L198.30,32.70 L191.70,26.32 L191.70,7.18 L198.30,0.80 M225.30,0.80 L228.50,0.80 L234.90,7.18 L234.90,26.32 L228.50,32.70 L225.30,32.70 L218.90,26.32 L218.90,7.18 L225.30,0.80 M245.00,32.70 L245.00,0.80 L255.55,22.17 L266.10,0.80 L266.10,32.70 M276.80,32.70 L276.80,0.80 L287.90,22.17 L299.00,0.80 L299.00,32.70" fill="none" stroke="#111" stroke-width="1.7" stroke-linejoin="round" stroke-linecap="round"/><path transform="translate(1742.6,245) rotate(-90)" d="M5.60,5.98 L10.75,0.80 L21.05,0.80 L26.20,5.98 L26.20,11.79 L21.05,16.81 L26.20,21.84 L26.20,27.18 L21.05,32.20 L10.75,32.20 L5.60,27.18 M21.05,16.81 L15.90,16.81 M58.60,0.80 L36.20,0.80 L36.20,11.79 L51.88,11.79 L58.60,17.44 L58.60,26.55 L51.88,32.20 L41.80,32.20 L36.20,26.55 M69.80,32.20 L69.80,0.80 L81.00,21.84 L92.20,0.80 L92.20,32.20 M101.00,32.20 L101.00,0.80 L111.90,21.84 L122.80,0.80 L122.80,32.20" fill="none" stroke="#111" stroke-width="1.7" stroke-linejoin="round" stroke-linecap="round"/><path transform="translate(1525.9,875) rotate(-90)" d="M5.40,6.43 L11.20,0.80 L19.60,0.80 L25.40,6.43 L25.40,11.44 L19.60,16.76 L10.80,16.76 L5.40,21.77 L5.40,32.10 L25.40,32.10 M42.86,0.80 L51.94,0.80 L58.20,6.75 L58.20,9.88 L51.94,15.82 L42.86,15.82 L36.60,9.88 L36.60,6.75 L42.86,0.80 M42.86,15.82 L51.94,15.82 L58.20,21.77 L58.20,26.15 L51.94,32.10 L42.86,32.10 L36.60,26.15 L36.60,21.77 L42.86,15.82 M75.30,0.80 L78.50,0.80 L84.90,7.06 L84.90,25.84 L78.50,32.10 L75.30,32.10 L68.90,25.84 L68.90,7.06 L75.30,0.80 M95.00,32.10 L95.00,0.80 L105.85,21.77 L116.70,0.80 L116.70,32.10 M126.80,32.10 L126.80,0.80 L137.90,21.77 L149.00,0.80 L149.00,32.10" fill="none" stroke="#111" stroke-width="1.7" stroke-linejoin="round" stroke-linecap="round"/><line x1="1446" y1="191" x2="1709" y2="191" stroke="#000" stroke-width="1.4" stroke-dasharray="37.5 3 10.5 3"/><line x1="1617" y1="191" x2="1617" y2="247" stroke="#000" stroke-width="1.4" stroke-dasharray="37.5 3 10.5 3"/><line x1="1708.7" y1="191" x2="1708.7" y2="247" stroke="#000" stroke-width="1.4" stroke-dasharray="37.5 3 10.5 3"/><path d="M1617.50,191.00 L1624.50,188.80 L1624.50,193.20 Z" fill="#000"/><path d="M1708.20,191.00 L1701.20,193.20 L1701.20,188.80 Z" fill="#000"/><rect x="1626.4" y="249.4" width="73.2" height="32" fill="none" stroke="#000" stroke-width="2"/><rect x="1616.6" y="280.5" width="92.6" height="3.2" fill="#000"/><rect x="1655.5" y="282" width="16.7" height="3.5" fill="#000"/><path d="M1661.5,285 L1661.5,291 Q1663.5,294 1665.5,291 L1665.5,285" fill="none" stroke="#000" stroke-width="1.6"/><line x1="1775.6" y1="121.4" x2="1775.6" y2="282" stroke="#000" stroke-width="1.4" stroke-dasharray="37.5 3 10.5 3"/><line x1="1737.8" y1="249.3" x2="1775.6" y2="249.3" stroke="#000" stroke-width="1.4" stroke-dasharray="25 3.5 12 3"/><line x1="1737.8" y1="281.3" x2="1775.6" y2="281.3" stroke="#000" stroke-width="1.4" stroke-dasharray="25 3.5 12 3"/><path d="M1775.60,249.80 L1777.80,256.80 L1773.40,256.80 Z" fill="#000"/><path d="M1775.60,281.00 L1773.40,274.00 L1777.80,274.00 Z" fill="#000"/><rect x="1661.4" y="290" width="3.2" height="202" fill="#000"/><rect x="1661.4" y="521.5" width="3.2" height="151" fill="#000"/><path d="M1639.2,496.2 C1648,489 1652,486 1658,489.2 L1668,494.6 C1674,497.8 1681,498 1690,488.2" fill="none" stroke="#000" stroke-width="1.8" stroke-linecap="round"/><path d="M1639.2,526.0 C1648,518.8 1652,515.8 1658,519.0 L1668,524.4 C1674,527.6 1681,527.8 1690,518.0" fill="none" stroke="#000" stroke-width="1.8" stroke-linecap="round"/><line x1="1465.4" y1="431.7" x2="1465.4" y2="925.2" stroke="#000" stroke-width="1.4" stroke-dasharray="37.5 3 10.5 3"/><line x1="1465.4" y1="249.4" x2="1465.4" y2="431.7" stroke="#000" stroke-width="1.4" stroke-dasharray="37.5 3 10.5 3"/><line x1="1463.5" y1="249.4" x2="1588" y2="249.4" stroke="#000" stroke-width="1.4" stroke-dasharray="37.5 3 10.5 3"/><path d="M1465.40,250.50 L1467.60,257.50 L1463.20,257.50 Z" fill="#000"/><path d="M1465.40,924.50 L1463.20,917.50 L1467.60,917.50 Z" fill="#000"/><line x1="1465.4" y1="925.2" x2="1586" y2="925.2" stroke="#000" stroke-width="1.4" stroke-dasharray="37.5 3 10.5 3"/><line x1="1558.8" y1="671.3" x2="1558.8" y2="925.2" stroke="#000" stroke-width="1.4" stroke-dasharray="37.5 3 10.5 3"/><line x1="1557.5" y1="671.3" x2="1588" y2="671.3" stroke="#000" stroke-width="1.5"/><path d="M1558.80,672.00 L1561.00,679.00 L1556.60,679.00 Z" fill="#000"/><path d="M1558.80,924.50 L1556.60,917.50 L1561.00,917.50 Z" fill="#000"/><g transform="translate(1663.2,0) scale(0.978,1) translate(-1663.2,0)"><g fill="none" stroke="#000" stroke-width="1.6"><path d="M1641.33,675.40 A41.20,41.20 0 0 0 1641.33,756.20" /><path d="M1641.33,675.40 A53.57,53.57 0 0 1 1641.33,756.20" /><circle cx="1622.70" cy="715.80" r="4.31" /><path d="M1685.37,675.40 A41.20,41.20 0 0 1 1685.37,756.20" /><path d="M1685.37,675.40 A53.57,53.57 0 0 0 1685.37,756.20" /><circle cx="1704.00" cy="715.80" r="4.31" /><line x1="1641.33" y1="674.40" x2="1652.50" y2="681.44" /><line x1="1685.37" y1="674.40" x2="1674.20" y2="681.44" /><line x1="1641.33" y1="757.20" x2="1652.50" y2="750.16" /><line x1="1641.33" y1="757.20" x2="1652.50" y2="764.24" /><line x1="1685.37" y1="757.20" x2="1674.20" y2="750.16" /><line x1="1685.37" y1="757.20" x2="1674.20" y2="764.24" /><path d="M1641.33,758.20 A41.20,41.20 0 0 0 1641.33,839.00" /><path d="M1641.33,758.20 A53.57,53.57 0 0 1 1641.33,839.00" /><circle cx="1622.70" cy="798.60" r="4.31" /><path d="M1685.37,758.20 A41.20,41.20 0 0 1 1685.37,839.00" /><path d="M1685.37,758.20 A53.57,53.57 0 0 0 1685.37,839.00" /><circle cx="1704.00" cy="798.60" r="4.31" /><line x1="1641.33" y1="757.20" x2="1685.37" y2="757.20" /><line x1="1641.33" y1="757.20" x2="1652.50" y2="750.16" /><line x1="1641.33" y1="757.20" x2="1652.50" y2="764.24" /><line x1="1685.37" y1="757.20" x2="1674.20" y2="750.16" /><line x1="1685.37" y1="757.20" x2="1674.20" y2="764.24" /><line x1="1641.33" y1="840.00" x2="1652.50" y2="832.96" /><line x1="1641.33" y1="840.00" x2="1652.50" y2="847.04" /><line x1="1685.37" y1="840.00" x2="1674.20" y2="832.96" /><line x1="1685.37" y1="840.00" x2="1674.20" y2="847.04" /><path d="M1641.33,841.00 A41.20,41.20 0 0 0 1641.33,921.80" /><path d="M1641.33,841.00 A53.57,53.57 0 0 1 1641.33,921.80" /><circle cx="1622.70" cy="881.40" r="4.31" /><path d="M1685.37,841.00 A41.20,41.20 0 0 1 1685.37,921.80" /><path d="M1685.37,841.00 A53.57,53.57 0 0 0 1685.37,921.80" /><circle cx="1704.00" cy="881.40" r="4.31" /><line x1="1641.33" y1="840.00" x2="1685.37" y2="840.00" /><line x1="1641.33" y1="840.00" x2="1652.50" y2="832.96" /><line x1="1641.33" y1="840.00" x2="1652.50" y2="847.04" /><line x1="1685.37" y1="840.00" x2="1674.20" y2="832.96" /><line x1="1685.37" y1="840.00" x2="1674.20" y2="847.04" /><line x1="1641.33" y1="922.80" x2="1652.50" y2="915.76" /><line x1="1685.37" y1="922.80" x2="1674.20" y2="915.76" /><line x1="1652.50" y1="671.30" x2="1652.50" y2="925.50" /><line x1="1675.19" y1="671.30" x2="1675.19" y2="925.50" /><line x1="1665.83" y1="671.30" x2="1665.83" y2="925.50" /><line x1="1667.49" y1="671.30" x2="1667.49" y2="925.50" /><rect x="1659.23" y="671.30" width="5.13" height="254.20" fill="#000" stroke="none"/><rect x="1645.13" y="671.30" width="36.43" height="3.48" fill="#000" stroke="none"/><rect x="1645.13" y="922.82" width="36.43" height="3.48" fill="#000" stroke="none"/></g></g><line x1="1609.6" y1="1000.3" x2="1892.9" y2="1000.3" stroke="#000" stroke-width="1.4" stroke-dasharray="37.5 3 10.5 3"/><line x1="1609.6" y1="924" x2="1609.6" y2="1000.3" stroke="#000" stroke-width="1.4" stroke-dasharray="37.5 3 10.5 3"/><line x1="1718.8" y1="924" x2="1718.8" y2="1000.3" stroke="#000" stroke-width="1.4" stroke-dasharray="37.5 3 10.5 3"/><path d="M1610.00,1000.30 L1617.00,998.10 L1617.00,1002.50 Z" fill="#000"/><path d="M1718.40,1000.30 L1711.40,1002.50 L1711.40,998.10 Z" fill="#000"/><path d="M1658.4,1087.7 L1668.4,1087.7 C1668.4,1115.3 1690.4,1137.3 1718.0,1137.3 L1718.0,1147.3 C1690.4,1147.3 1668.4,1169.3 1668.4,1196.8999999999999 L1658.4,1196.8999999999999 C1658.4,1169.3 1636.4,1147.3 1608.8000000000002,1147.3 L1608.8000000000002,1137.3 C1636.4,1137.3 1658.4,1115.3 1658.4,1087.7 Z" fill="none" stroke="#000" stroke-width="2"/><circle cx="1663.4" cy="1142.3" r="15.2" fill="none" stroke="#000" stroke-width="2"/><circle cx="1618.60" cy="1132.90" r="4.3" fill="#fff" stroke="#000" stroke-width="1.8"/><circle cx="1618.60" cy="1151.70" r="4.3" fill="#fff" stroke="#000" stroke-width="1.8"/><circle cx="1708.20" cy="1132.90" r="4.3" fill="#fff" stroke="#000" stroke-width="1.8"/><circle cx="1708.20" cy="1151.70" r="4.3" fill="#fff" stroke="#000" stroke-width="1.8"/><line x1="1608.9" y1="1265.5" x2="1892.8" y2="1265.5" stroke="#000" stroke-width="1.4" stroke-dasharray="37.5 3 10.5 3"/><line x1="1608.9" y1="1186.5" x2="1608.9" y2="1265.5" stroke="#000" stroke-width="1.4" stroke-dasharray="37.5 3 10.5 3"/><line x1="1718.1" y1="1186.5" x2="1718.1" y2="1265.5" stroke="#000" stroke-width="1.4" stroke-dasharray="37.5 3 10.5 3"/><path d="M1609.50,1265.50 L1616.50,1263.30 L1616.50,1267.70 Z" fill="#000"/><path d="M1717.50,1265.50 L1710.50,1267.70 L1710.50,1263.30 Z" fill="#000"/>
</svg></body></html>
